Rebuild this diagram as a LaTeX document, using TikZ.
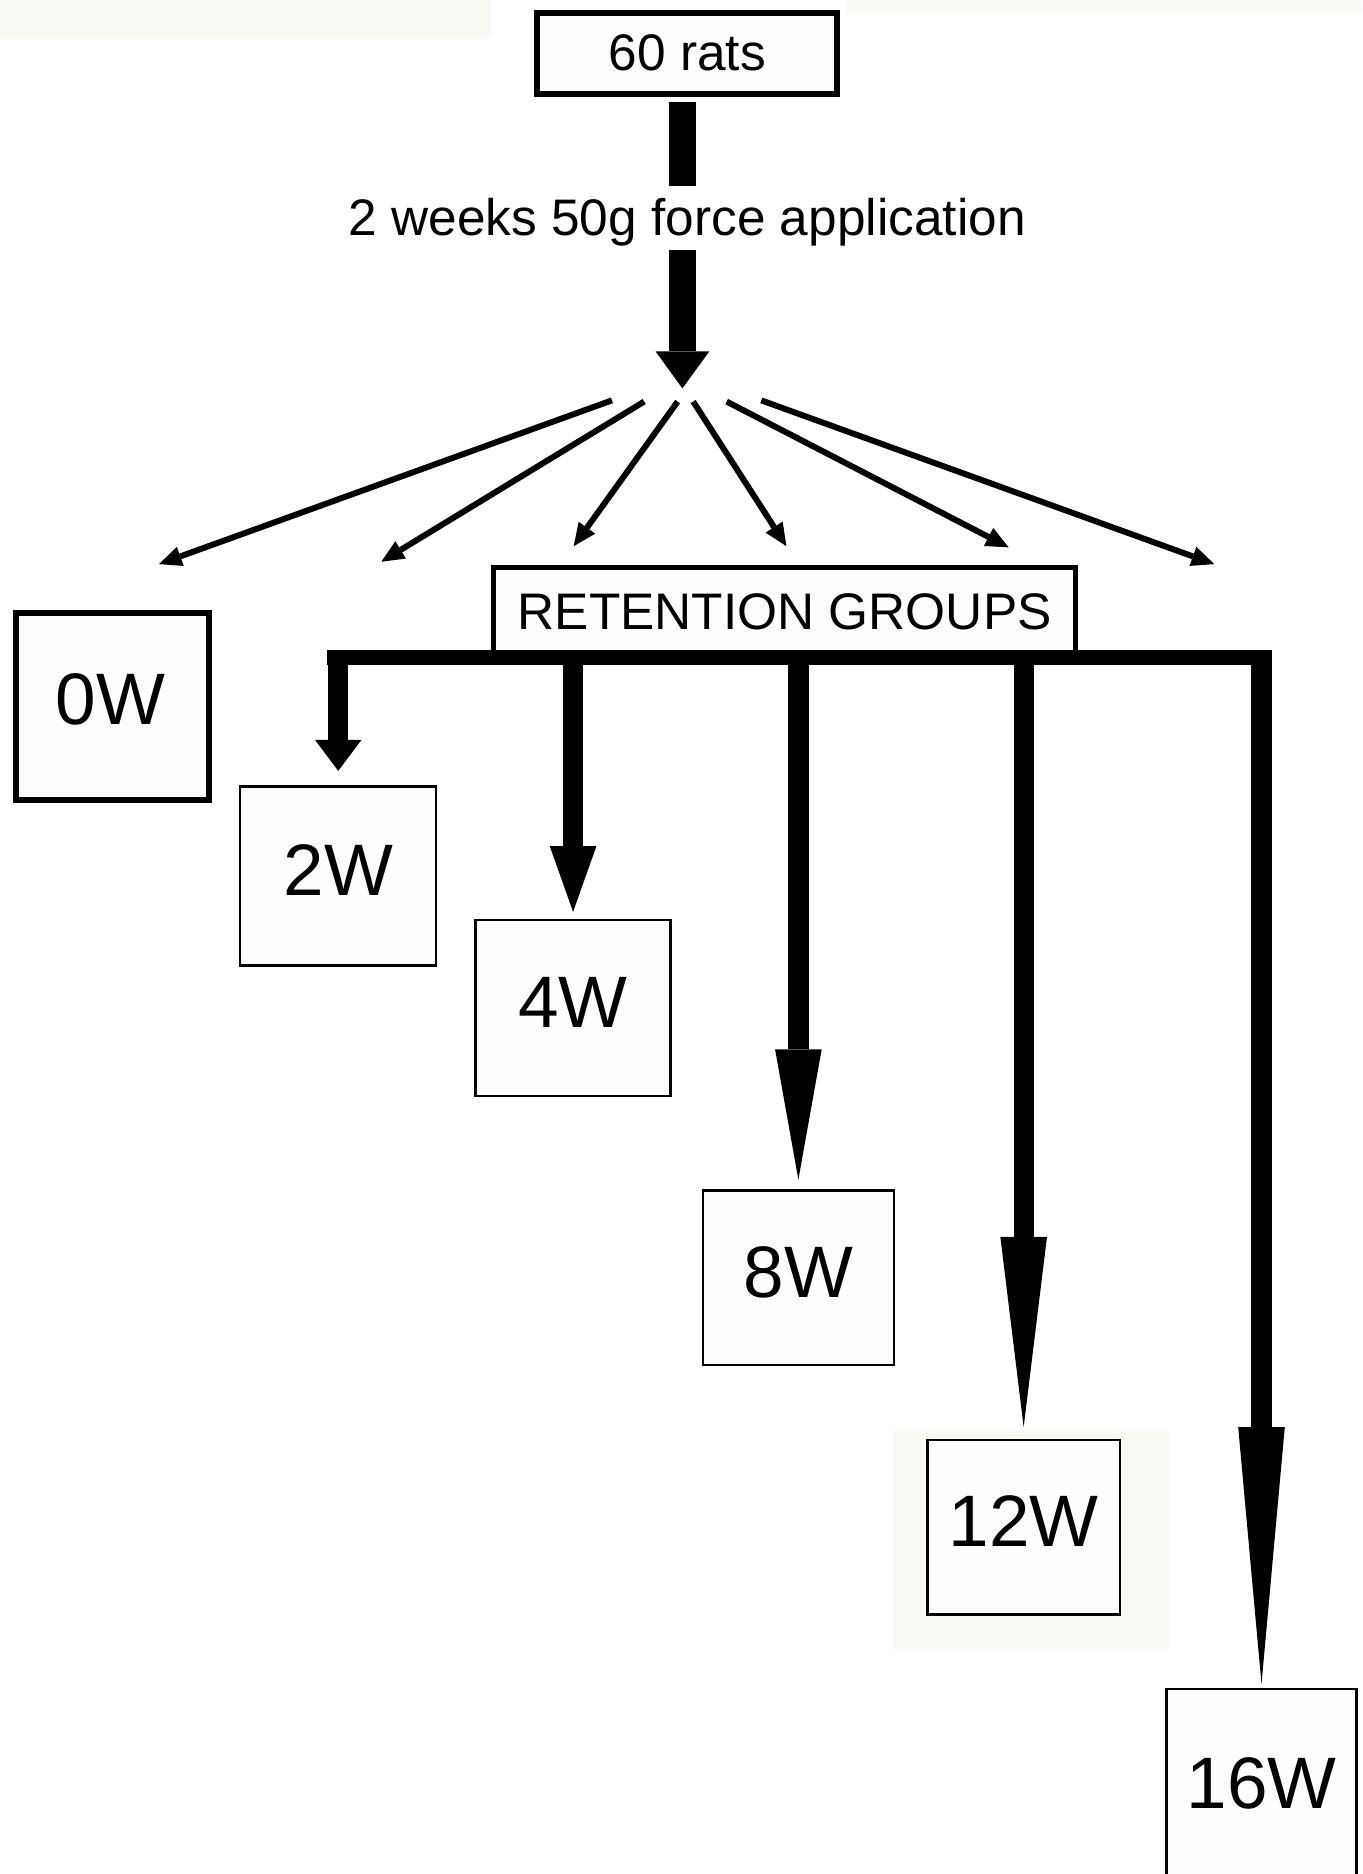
\documentclass[tikz,border=0pt]{standalone}
\usepackage{fontspec}
\setmainfont{Liberation Sans}
\usetikzlibrary{arrows.meta}
\definecolor{boxfill}{RGB}{253,253,251}
\definecolor{faint}{RGB}{250,250,245}
\tikzset{
  smalltext/.style={font=\fontsize{43}{50}\selectfont},
  bigtext/.style={font=\fontsize{61}{70}\selectfont},
  thickbox/.style={draw, line width=5pt, fill=boxfill, inner sep=0pt},
  thinbox/.style={draw, line width=2pt, fill=boxfill, inner sep=0pt, bigtext, text depth=10pt},
  shaft/.style={line width=22pt},
  fanarrow/.style={line width=5pt, -{Triangle[length=19pt,width=17pt,line width=0pt]}},
  drop/.style={line width=17pt},
}
\begin{document}
\begin{tikzpicture}[x=1pt,y=-1pt]
\useasboundingbox (0,0) rectangle (1140,1568);
\fill[faint] (0,0) rectangle (411,33);
\fill[faint] (709,0) rectangle (1140,12);
\fill[faint] (747,1197) rectangle (979,1380);

% top part
\node[thickbox, smalltext, minimum width=251pt, minimum height=68pt] (rats) at (575,44.5) {60 rats};
\node[smalltext, inner sep=0pt, anchor=base] (force) at (575,197) {2 weeks 50g force application};
\coordinate (hub) at (571,325);
\draw[shaft, shorten <=4pt, shorten >=10pt] (rats.south -| hub) -- (force.north -| hub);
\draw[shaft, shorten <=3pt, -{Triangle[length=31pt,width=45pt,line width=0pt]}] (force.south -| hub) -- (hub);

% fan arrows
\coordinate (s1) at (512,335); \coordinate (e1) at (133,472);
\coordinate (s2) at (539,336); \coordinate (e2) at (319,470);
\coordinate (s3) at (567,336); \coordinate (e3) at (480,457);
\coordinate (s4) at (580,336); \coordinate (e4) at (658,457);
\coordinate (s5) at (608,336); \coordinate (e5) at (844,458);
\coordinate (s6) at (637,335); \coordinate (e6) at (1016,472);
\foreach \i in {1,...,6} { \draw[fanarrow] (s\i) -- (e\i); }

% boxes
\node[thickbox, line width=4pt, smalltext, minimum width=487pt, minimum height=73pt] (ret) at (656.5,511.5) {RETENTION GROUPS};
\node[thickbox, bigtext, text depth=12pt, minimum width=161pt, minimum height=157pt] (w0) at (94,591) {0W\kern3pt};
\node[thinbox, minimum width=164pt, minimum height=150pt] (w2) at (283,733) {2W};
\node[thinbox, minimum width=163pt, minimum height=147pt] (w4) at (479.5,843.5) {4W};
\node[thinbox, minimum width=160pt, minimum height=146pt] (w8) at (668,1069) {8W};
\node[thinbox, minimum width=161pt, minimum height=146pt] (w12) at (856.5,1278) {12W};
\node[thinbox, text depth=0pt, minimum width=159pt, minimum height=170pt] (w16) at (1055.5,1498) {\raisebox{13pt}{16W}};

% retention tree
\draw[line width=12pt, shorten <=-9pt, shorten >=-9pt] (w2.north |- ret.south) -- (w16.north |- ret.south);
\draw[drop, -{Triangle[length=26pt,width=39pt,line width=0pt]}] (w2.north |- ret.south) -- ([yshift=12pt]w2.north);
\draw[drop, -{Triangle[length=55pt,width=39pt,line width=0pt]}] (w4.north |- ret.south) -- ([yshift=6pt]w4.north);
\draw[drop, -{Triangle[length=109pt,width=39pt,line width=0pt]}] (w8.north |- ret.south) -- ([yshift=8pt]w8.north);
\draw[drop, -{Triangle[length=159pt,width=39pt,line width=0pt]}] (w12.north |- ret.south) -- ([yshift=10pt]w12.north);
\draw[drop, -{Triangle[length=215pt,width=39pt,line width=0pt]}] (w16.north |- ret.south) -- ([yshift=3pt]w16.north);
\end{tikzpicture}
\end{document}
